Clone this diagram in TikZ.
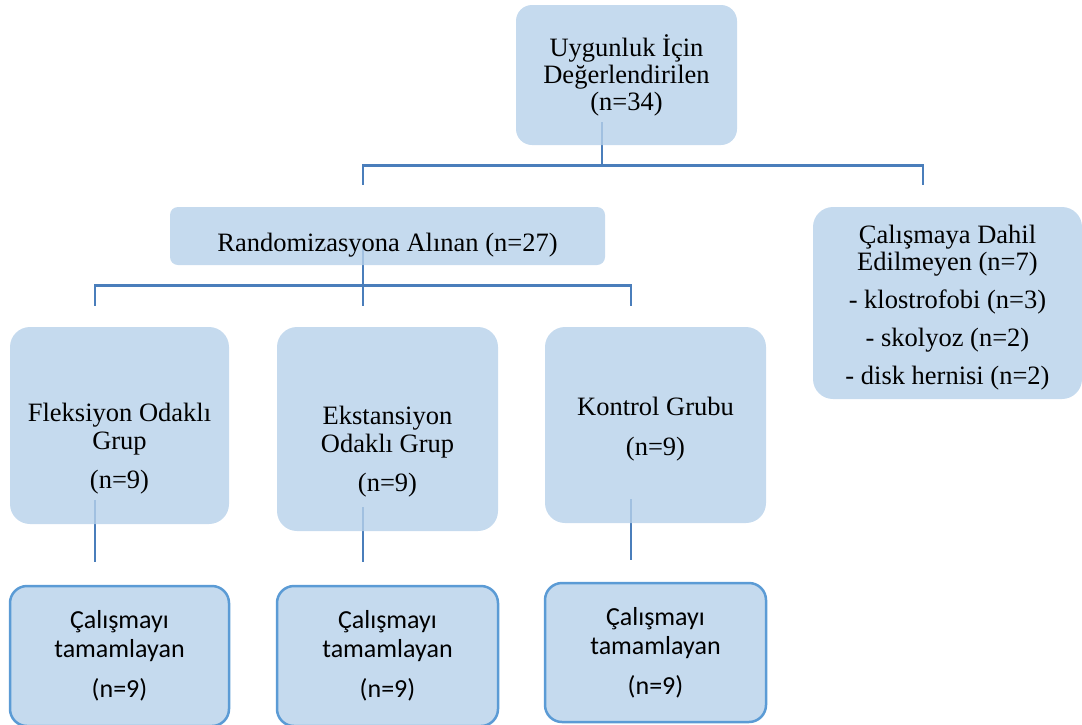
\documentclass[tikz,border=0pt]{standalone}
\usepackage{fontspec}
\setmainfont{Liberation Serif}
\newfontfamily\calibrifont{Carlito}
\usetikzlibrary{backgrounds}
\definecolor{boxfill}{RGB}{183,209,234}
\definecolor{linkblue}{RGB}{74,126,187}
\definecolor{edgeblue}{RGB}{91,155,213}
\tikzset{
  stage/.style={rectangle, rounded corners=20pt, fill=boxfill, fill opacity=0.8, text opacity=1, inner sep=0pt, align=center, font=\fontsize{26.5pt}{27pt}\selectfont},
  donebox/.style={stage, draw=edgeblue, draw opacity=1, line width=2.5pt, rounded corners=17pt, minimum width=221pt, font=\calibrifont\fontsize{26pt}{29pt}\selectfont},
  conn/.style={draw=linkblue, line width=2.75pt}
}

\begin{document}
\begin{tikzpicture}[x=1pt, y=-1pt]
  \useasboundingbox (0,0) rectangle (1082,724);
  % first level
  \node[stage, rounded corners=16pt, minimum width=221pt, minimum height=140pt] (eval) at (626.5,75) {Uygunluk İçin\\Değerlendirilen\\(n=34)};
  \node[stage, rounded corners=8pt, minimum width=435pt, text height=44pt, text depth=14pt] (rand) at (387.5,236) {Randomizasyona Alınan (n=27)};
  \node[stage, minimum width=269pt, text height=177pt, text depth=15pt] (excl) at (947.5,303) {Çalışmaya Dahil\\Edilmeyen (n=7)\\[11pt]- klostrofobi (n=3)\\[11pt]- skolyoz (n=2)\\[11pt]- disk hernisi (n=2)};
  % groups
  \node[stage, font=\fontsize{26.5pt}{28pt}\selectfont, minimum width=219pt, text height=161pt, text depth=36pt] (flex) at (119.5,425.5) {Fleksiyon Odaklı\\Grup\\[11pt](n=9)};
  \node[stage, font=\fontsize{26.5pt}{28pt}\selectfont, minimum width=221pt, text height=164pt, text depth=40pt] (ext) at (387.5,429) {Ekstansiyon\\Odaklı Grup\\[11pt](n=9)};
  \node[stage, font=\fontsize{26.5pt}{28pt}\selectfont, minimum width=221pt, text height=128pt, text depth=68pt] (ctrl) at (655.5,425) {Kontrol Grubu\\[12pt](n=9)};
  % completed
  \node[donebox, minimum width=219pt, minimum height=140pt] (done1) at (119.5,656) {Çalışmayı\\tamamlayan\\[11pt](n=9)};
  \node[donebox, minimum height=140pt] (done2) at (387.5,656) {Çalışmayı\\tamamlayan\\[11pt](n=9)};
  \node[donebox, minimum height=139pt] (done3) at (655.5,652.5) {Çalışmayı\\tamamlayan\\[11pt](n=9)};

  \coordinate (eval-out) at ([xshift=-24.5pt,yshift=23pt]eval.south);
  \coordinate (eval-bus) at ([xshift=-24.5pt,yshift=-20pt]eval.south);
  \coordinate (rand-in) at ([xshift=-24.5pt,yshift=22pt]rand.north);
  \coordinate (excl-in) at ([xshift=-24.5pt,yshift=22pt]excl.north);
  \coordinate (rand-out) at ([xshift=-24.5pt,yshift=20pt]rand.south);
  \coordinate (rand-bus) at ([xshift=-24.5pt,yshift=-20pt]rand.south);
  \coordinate (flex-in) at ([xshift=-24.5pt,yshift=21pt]flex.north);
  \coordinate (ext-in) at ([xshift=-24.5pt,yshift=21pt]ext.north);
  \coordinate (ctrl-in) at ([xshift=-24.5pt,yshift=21pt]ctrl.north);
  \coordinate (flex-out) at ([xshift=-24.5pt,yshift=24pt]flex.south);
  \coordinate (ext-out) at ([xshift=-24.5pt,yshift=24pt]ext.south);
  \coordinate (ctrl-out) at ([xshift=-24.5pt,yshift=24pt]ctrl.south);
  \coordinate (done1-in) at ([xshift=-24.5pt,yshift=23pt]done1.north);
  \coordinate (done2-in) at ([xshift=-24.5pt,yshift=23pt]done2.north);
  \coordinate (done3-in) at ([xshift=-24.5pt,yshift=22pt]done3.north);

  \begin{scope}[on background layer]
    \draw[conn] (eval-out) -- (eval-bus);
    \draw[conn] (rand-in) |- (eval-bus) -| (excl-in);
    \draw[conn] (rand-out) -- (ext-in);
    \draw[conn] (flex-in) |- (rand-bus) -| (ctrl-in);
    \draw[conn] (flex-out) -- (done1-in);
    \draw[conn] (ext-out) -- (done2-in);
    \draw[conn] (ctrl-out) -- (done3-in);
  \end{scope}
\end{tikzpicture}
\end{document}
